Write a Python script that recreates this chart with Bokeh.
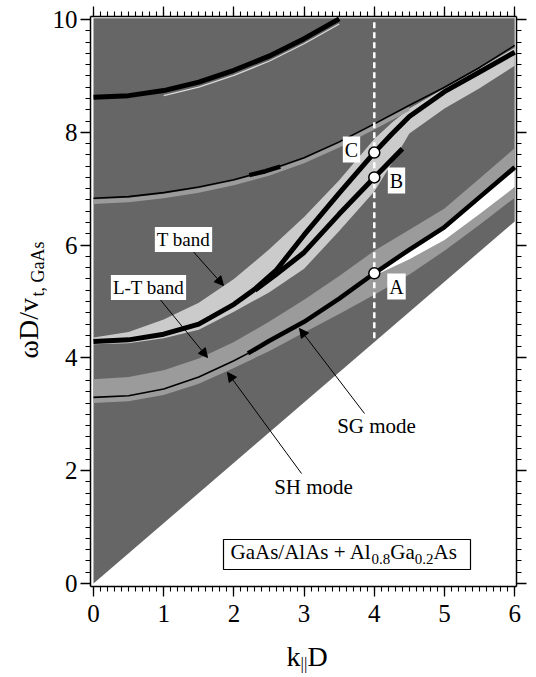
import numpy as np
from bokeh.plotting import figure
from bokeh.layouts import row, column
from bokeh.models import (Label, Arrow, NormalHead, BoxAnnotation, LinearAxis,
                          SingleIntervalTicker, Range1d, CustomJSTickFormatter)
from bokeh.embed import file_html
from bokeh.resources import INLINE

# ---------------- data ----------------
# substrate (Al0.8Ga0.2As) transverse sound line: below it no guided modes
cone_k = [0.0, 6.0]
cone_w = [0.0, 6.42]
w_top = 10.02

# upper-most mode (thick)
top_k = [0.0, 0.5, 1.0, 1.5, 2.0, 2.5, 3.0, 3.5]
top_w = [8.62, 8.65, 8.74, 8.89, 9.10, 9.35, 9.66, 10.01]

# thin mode starting at 6.83
bp_k = [0.0, 0.5, 1.0, 1.5, 2.0, 2.5, 3.0, 3.5, 4.0, 4.5, 5.0, 5.5, 6.0]
bp_w = [6.83, 6.86, 6.93, 7.03, 7.16, 7.33, 7.55, 7.83, 8.15, 8.48, 8.80, 9.15, 9.54]
# short thick section on that mode
bseg_k = [2.22, 2.45, 2.66]
bseg_w = [7.24, 7.31, 7.39]

# T band (light gray)
tb_k = [0.0, 0.5, 1.0, 1.5, 2.0, 2.5, 3.0, 3.5, 4.0, 4.25, 4.5, 5.0, 5.5, 6.0]
tb_hi = [4.36, 4.46, 4.68, 4.98, 5.40, 5.92, 6.50, 7.15, 7.88, 8.17, 8.42, 8.78, 9.13, 9.50]
tb_lo = [4.24, 4.26, 4.35, 4.50, 4.82, 5.16, 5.58, 6.25, 6.95, 7.45, 7.98, 8.42, 8.78, 9.18]

# mode through C (thick)
c_k = [0.0, 0.5, 1.0, 1.5, 2.0, 2.3, 2.6, 3.0, 3.5, 4.0, 4.25, 4.5, 5.0, 5.5, 6.0]
c_w = [4.29, 4.32, 4.42, 4.60, 4.95, 5.22, 5.55, 6.18, 6.92, 7.64, 7.97, 8.28, 8.72, 9.07, 9.42]

# mode through B (thick)
b_k = [2.3, 2.6, 3.0, 3.5, 4.0, 4.4]
b_w = [5.20, 5.48, 5.87, 6.55, 7.20, 7.71]

# L-T band (medium gray)
lt_k = [0.0, 0.5, 1.0, 1.5, 2.0, 2.5, 3.0, 3.5, 4.0, 4.5, 5.0, 5.5, 6.0]
lt_hi = [3.62, 3.66, 3.78, 3.99, 4.28, 4.64, 5.03, 5.45, 5.90, 6.27, 6.65, 7.18, 7.72]
lt_lo = [3.20, 3.23, 3.34, 3.54, 3.82, 4.12, 4.45, 4.78, 5.12, 5.48, 5.90, 6.36, 6.84]

# SH (thin) / SG (thick) mode
m_k = [0.0, 0.5, 1.0, 1.5, 2.0, 2.2, 2.5, 3.0, 3.5, 4.0, 4.5, 5.0, 5.5, 6.0]
m_w = [3.30, 3.33, 3.45, 3.66, 3.95, 4.08, 4.30, 4.64, 5.05, 5.50, 5.92, 6.32, 6.85, 7.38]

# white gap below the SG mode
ws_k = [3.9, 4.5, 5.0, 5.5, 6.0]
ws_hi = [5.42, 5.87, 6.27, 6.80, 7.32]
ws_lo = [5.40, 5.75, 6.09, 6.55, 7.03]

# points A, B, C at k||D = 4
pt_k = [4.0, 4.0, 4.0]
pt_w = [5.50, 7.20, 7.64]
dash_k = [4.0, 4.0]
dash_w = [4.35, 10.02]

# ---------------- layout geometry ----------------
W, H = 536, 677
LW = 47          # left strip holding the y title
BH = 37          # bottom strip holding the x title
X0, SX, Y0, SY = 93.0, 70.2, 583.0, 56.4   # page-pixel mapping of the main axes
MID = 0.33       # text box centre above the baseline, in em
FONT = "Liberation Serif"
DARK = "#666666"
LIGHT = "#cbcbcb"
MED = "#9b9b9b"


def d(px, py):
    return (px - X0) / SX, (Y0 - py) / SY


xr = ((90 - X0) / SX, (516 - X0) / SX)
p = figure(width=W - LW, height=H - BH, output_backend="svg", toolbar_location=None,
           title=None,
           x_range=Range1d(*xr),
           y_range=Range1d((Y0 - 586) / SY, (Y0 - 16) / SY),
           min_border_left=90 - LW, min_border_right=20, min_border_top=16,
           min_border_bottom=(H - BH) - 586)
p.outline_line_color = None
p.grid.visible = False
p.background_fill_color = "white"
p.border_fill_color = "white"

# dark region above the sound line
p.patch(x=[cone_k[0], cone_k[1], cone_k[1], cone_k[0]],
        y=[cone_w[0], cone_w[1], w_top, w_top], fill_color=DARK, line_color=None)
# L-T band
p.patch(x=lt_k + lt_k[::-1], y=lt_hi + lt_lo[::-1], fill_color=MED, line_color=None)
# white gap
p.patch(x=ws_k + ws_k[::-1], y=ws_hi + ws_lo[::-1], fill_color="white", line_color=None)
# T band
p.patch(x=tb_k + tb_k[::-1], y=tb_hi + tb_lo[::-1], fill_color=LIGHT, line_color=None)
# gray strip under the thin upper mode
gs_k = bp_k[:10]
gs_hi = list(np.array(bp_w[:10]) - 0.02)
gs_lo = list(np.array(bp_w[:10]) - 0.10)
p.patch(x=gs_k + gs_k[::-1], y=gs_hi + gs_lo[::-1], fill_color=MED, line_color=None)
# light companion under top mode
p.line(top_k[2:], list(np.array(top_w[2:]) - 0.09), line_color="#d8d8d8", line_width=1.3)

# mode lines
p.line(top_k, top_w, line_color="black", line_width=5)
p.line(bp_k, bp_w, line_color="black", line_width=1.6)
p.line(bseg_k, bseg_w, line_color="black", line_width=4.5)
p.line(c_k, c_w, line_color="black", line_width=5)
p.line(b_k, b_w, line_color="black", line_width=5)
p.line(m_k[:6], m_w[:6], line_color="black", line_width=1.6)
p.line(m_k[5:], m_w[5:], line_color="black", line_width=4.5)

# dashed line at k = 4 and the points A, B, C
p.line(dash_k, dash_w, line_color="white", line_width=2.5, line_dash="6 4")
p.scatter(pt_k, pt_w, size=11, fill_color="white", line_color="black", line_width=1.5)

# ---------------- axes ----------------
p.xaxis.ticker = SingleIntervalTicker(interval=1, num_minor_ticks=10)
p.yaxis.ticker = SingleIntervalTicker(interval=2, num_minor_ticks=10)
p.add_layout(LinearAxis(ticker=SingleIntervalTicker(interval=1, num_minor_ticks=10),
                        formatter=CustomJSTickFormatter(code="return ''"),
                        major_label_standoff=0), "above")
p.add_layout(LinearAxis(ticker=SingleIntervalTicker(interval=2, num_minor_ticks=10),
                        formatter=CustomJSTickFormatter(code="return ''"),
                        major_label_standoff=0), "right")
for ax in p.axis:
    ax.axis_line_color = "black"
    ax.axis_line_width = 1.5
    ax.major_tick_line_color = "black"
    ax.minor_tick_line_color = "black"
    ax.major_tick_line_width = 1.3
    ax.minor_tick_line_width = 1.1
    ax.major_tick_in = 0
    ax.minor_tick_in = 0
    ax.major_tick_out = 10
    ax.minor_tick_out = 5
    ax.major_label_text_font = FONT
    ax.major_label_text_font_size = "25px"
    ax.major_label_text_color = "black"
p.below[0].major_label_standoff = 8
p.left[0].major_label_standoff = 3


def lab(px, py, text, size, align="left", angle=0, box=False, base=True):
    """px, py: page pixels; base=True -> py is the text baseline, else its centre."""
    if base:
        py = py - MID * size
    x, y = d(px, py)
    kw = {}
    if box:
        kw = dict(background_fill_color="white", padding=2)
    p.add_layout(Label(x=x, y=y, text=text, text_font=FONT, text_font_size=f"{size}px",
                       text_align=align, text_baseline="middle", text_color="black",
                       angle=angle, angle_units="deg", **kw))


def arrow(p0, p1):
    x0, y0 = d(*p0)
    x1, y1 = d(*p1)
    p.add_layout(Arrow(x_start=x0, y_start=y0, x_end=x1, y_end=y1, line_width=1,
                       line_color="black",
                       end=NormalHead(size=9, line_color="black", fill_color="black", line_width=1)))


# arrows
arrow((190, 248), (223, 285))
arrow((158, 297), (207, 357))
arrow((364, 413), (299, 328))
arrow((301, 473), (227, 372))

# labels
lab(183, 239, "T band", 19, "center", box=True, base=False)
lab(148, 287, "L-T band", 19, "center", box=True, base=False)
lab(351, 149, "C", 20, "center", box=True, base=False)
lab(396, 180, "B", 20, "center", box=True, base=False)
lab(396, 286, "A", 20, "center", box=True, base=False)
lab(376, 425, "SG mode", 21, "center", base=False)
lab(313, 486, "SH mode", 21, "center", base=False)

# formula box
bl, bt = d(223, 539)
br, bb = d(470, 569)
p.add_layout(BoxAnnotation(left=bl, right=br, bottom=bb, top=bt, fill_color="white",
                           fill_alpha=1.0, line_color="black", line_width=1.2, line_alpha=1.0))
fx = 230.0
for txt, sz, dy, wem in [("GaAs/AlAs + Al", 21, 0, 6.72), ("0.8", 15, 5, 1.25),
                         ("Ga", 21, 0, 1.166), ("0.2", 15, 5, 1.25), ("As", 21, 0, 1.111)]:
    lab(fx, 558 + dy, txt, sz)
    fx += wem * sz


# ---------------- title strips ----------------
def strip(w, h, x_range, y0):
    f = figure(width=w, height=h, output_backend="svg", toolbar_location=None,
               title=None, x_range=x_range, y_range=Range1d(y0, y0 + h),
               x_axis_type=None, y_axis_type=None,
               min_border=0, min_border_left=0, min_border_right=0,
               min_border_top=0, min_border_bottom=0)
    f.outline_line_color = None
    f.background_fill_color = "white"
    f.border_fill_color = "white"
    return f


left = strip(LW, H, Range1d(0, LW), 0)          # x, y in page pixels (y upward)
bottom = strip(W - LW, BH, Range1d(*xr), 0)     # frame aligns with the main frame


def t_left(px, py_base_start, text, size):
    # rotated text, reading upward; px is the baseline position
    left.add_layout(Label(x=px - MID * size, y=H - py_base_start, text=text, text_font=FONT,
                          text_font_size=f"{size}px", text_align="left",
                          text_baseline="middle", text_color="black",
                          angle=90, angle_units="deg"))


def t_bottom(px, py, text, size):
    bottom.add_layout(Label(x=d(px, 0)[0], y=H - (py - MID * size), text=text, text_font=FONT,
                            text_font_size=f"{size}px", text_align="left",
                            text_baseline="middle", text_color="black"))


t_left(37, 358, "ωD/v", 28)
t_left(43, 296, "t, GaAs", 18)
t_bottom(286, 665, "k", 28)
t_bottom(300, 669, "||", 17)
t_bottom(307, 665, "D", 28)

layout = row(left, column(p, bottom, spacing=0), spacing=0)
open("out.html", "w").write(file_html(layout, INLINE))
